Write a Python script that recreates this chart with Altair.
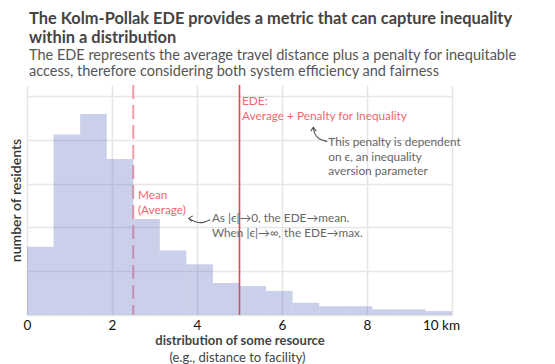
import altair as alt
import pandas as pd

FONT = "Lato"

# ---- data ----
bin_start = [0.0, 0.625, 1.25, 1.875, 2.5, 3.125, 3.75, 4.375,
             5.0, 5.625, 6.25, 6.875, 7.5, 8.125, 8.75, 9.375]
bin_end = [0.625, 1.25, 1.875, 2.5, 3.125, 3.75, 4.375, 5.0,
           5.625, 6.25, 6.875, 7.5, 8.125, 8.75, 9.375, 10.0]
residents = [15.6, 41.2, 45.9, 35.6, 21.9, 14.7, 11.6, 7.3,
             6.6, 5.5, 2.8, 2.0, 2.0, 1.3, 1.3, 0.9]
mean_value = [2.5]
ede_value = [5.0]
x_ticks = [0, 2, 4, 6, 8, 10]
y_grid = [0, 10, 20, 30, 40, 50]

# annotation text (data coordinates)
red_text = ["EDE:", "Average + Penalty for Inequality", "Mean", "(Average)"]
red_x = [5.06, 5.06, 2.61, 2.61]
red_y = [47.9, 44.6, 26.4, 23.1]

gray_text = ["This penalty is dependent", "on \u03f5, an inequality", "aversion parameter",
             "As |\u03f5|\u21920, the EDE\u2192mean.", "When |\u03f5|\u2192\u221e, the EDE\u2192max."]
gray_x = [7.09, 7.09, 7.09, 4.35, 4.35]
gray_y = [38.5, 35.1, 31.9, 21.3, 17.9]

# curved arrows
arrow_id = ["a", "a", "a", "a", "b", "b", "b", "b"]
arrow_x = [7.066, 6.86, 6.76, 6.736, 4.313, 4.148, 3.984, 3.819]
arrow_y = [39.6, 40.1, 41.4, 42.7, 21.72, 21.0, 21.1, 21.95]
head_id = ["a", "a", "a", "b", "b", "b"]
head_x = [6.678, 6.736, 6.807, 3.90, 3.807, 3.878]
head_y = [41.97, 42.87, 41.97, 22.62, 22.06, 21.38]

W, H = 425, 230

bars_df = pd.DataFrame({"start": bin_start, "end": bin_end, "n": residents})
x_scale = alt.Scale(domain=[0, 10], nice=False, zero=False)
y_scale = alt.Scale(domain=[0, 52.5], nice=False)

x_axis = alt.Axis(
    values=x_ticks, grid=True, ticks=False, domain=False, labelFlush=False,
    labelExpr="datum.value == 10 ? '10 km' : datum.label",
    labelOffset={"condition": {"test": "datum.value == 10", "value": -11}, "value": 0},
    labelFontSize=13.5, labelColor="#111", labelPadding=3,
    title="distribution of some resource", titleFontSize=13, titleFontWeight="bold",
    titleColor="#444", titlePadding=3,
)
y_axis = alt.Axis(
    values=y_grid, grid=True, ticks=False, domain=False, labels=False,
    title="number of residents", titleFontSize=14, titleFontWeight=600,
    titleColor="#333", titleX=-11, titleY=H / 2, titleBaseline="middle", titleAngle=270,
    titleAlign="center",
)

bars = alt.Chart(bars_df).mark_rect(color="#6a78c4", opacity=0.35).encode(
    x=alt.X("start:Q", scale=x_scale, axis=x_axis),
    x2="end:Q",
    y=alt.Y("n:Q", scale=y_scale, axis=y_axis),
    y2=alt.Y2(datum=0),
)

mean_rule = alt.Chart(pd.DataFrame({"v": mean_value})).mark_rule(
    color="#f49aa3", strokeWidth=2, strokeDash=[14, 6]
).encode(x=alt.X("v:Q", scale=x_scale))

ede_rule = alt.Chart(pd.DataFrame({"v": ede_value})).mark_rule(
    color="#e8404f", strokeWidth=1.6
).encode(x=alt.X("v:Q", scale=x_scale))

red_df = pd.DataFrame({"t": red_text, "x": red_x, "y": red_y})
red_labels = alt.Chart(red_df).mark_text(
    align="left", baseline="alphabetic", font=FONT, fontSize=11.8, color="#f2666f"
).encode(x=alt.X("x:Q", scale=x_scale), y=alt.Y("y:Q", scale=y_scale), text="t:N")

gray_df = pd.DataFrame({"t": gray_text, "x": gray_x, "y": gray_y})
gray_labels = alt.Chart(gray_df).mark_text(
    align="left", baseline="alphabetic", font=FONT, fontSize=11.8, color="#666"
).encode(x=alt.X("x:Q", scale=x_scale), y=alt.Y("y:Q", scale=y_scale), text="t:N")

arr_df = pd.DataFrame({"id": arrow_id, "x": arrow_x, "y": arrow_y, "i": list(range(len(arrow_x)))})
arrows = alt.Chart(arr_df).mark_line(color="#555", strokeWidth=1.1, interpolate="basis").encode(
    x=alt.X("x:Q", scale=x_scale), y=alt.Y("y:Q", scale=y_scale),
    detail="id:N", order="i:Q",
)
head_df = pd.DataFrame({"id": head_id, "x": head_x, "y": head_y, "i": list(range(len(head_x)))})
heads = alt.Chart(head_df).mark_line(color="#555", strokeWidth=1.1).encode(
    x=alt.X("x:Q", scale=x_scale), y=alt.Y("y:Q", scale=y_scale),
    detail="id:N", order="i:Q",
)

subtitle_line = alt.Chart(pd.DataFrame({"t": ["(e.g., distance to facility)"]})).mark_text(
    font=FONT, fontSize=13, color="#444", align="center", baseline="alphabetic"
).encode(x=alt.value(W / 2 - 2), y=alt.value(H + 47), text="t:N")

chart = alt.layer(
    mean_rule, ede_rule, bars, red_labels, gray_labels, arrows, heads, subtitle_line
).properties(
    width=W, height=H,
    autosize=alt.AutoSizeParams(type="none"),
    padding={"left": 19, "top": 77, "right": 95, "bottom": 51},
    title=alt.TitleParams(
        text=["The Kolm-Pollak EDE provides a metric that can capture inequality",
              "within a distribution"],
        subtitle=["The EDE represents the average travel distance plus a penalty for inequitable",
                  "access, therefore considering both system efficiency and fairness"],
        anchor="start", frame="group", font=FONT, fontSize=16.4, fontWeight="bold",
        color="#444", lineHeight=19, subtitleFont=FONT, subtitleFontSize=14.5,
        subtitleColor="#555", subtitleLineHeight=16, subtitlePadding=2, offset=6, dx=2,
    ),
).configure_view(stroke=None).configure_axis(
    gridColor="#e6e6e6", gridWidth=1.6, labelFont=FONT, titleFont=FONT
)

chart.save("out.html", embed_options={"renderer": "svg", "actions": False})
